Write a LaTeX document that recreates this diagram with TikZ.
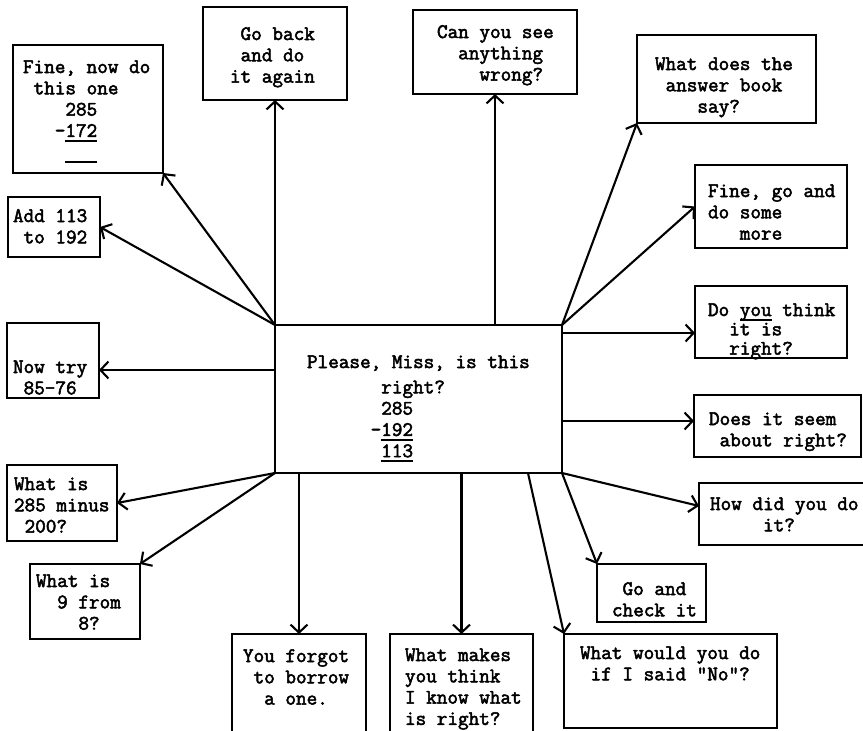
\documentclass[tikz,border=0pt]{standalone}
\usepackage{fontspec}
\newfontfamily\twfont{Latin Modern Mono}[FakeBold=2.5]
\usetikzlibrary{arrows.meta,fit,calc}
\newcommand\tstr{\rule{0pt}{15pt}}
\newcommand\tul[1]{\setbox0\hbox{#1}\rlap{\rule[-5pt]{\wd0}{1.8pt}}\box0}
\begin{document}
\begin{tikzpicture}[x=1pt,y=-1pt,
  box/.style={draw,line width=2.4pt,inner sep=0pt,outer sep=0pt},
  txt/.style={anchor=north west,inner sep=0pt,outer sep=0pt,align=left,
    font=\twfont\fontsize{20.6pt}{21.3pt}\selectfont},
  arr/.style={line width=2.1pt,-{Straight Barb[length=8pt,width=17pt]}}]
\useasboundingbox (0,0) rectangle (863,731);
% boxes
\node[box,fit={(275,325) (562,473)}] (c) {};
\node[box,fit={(13,45) (163,173)}] (b1) {};
\node[box,fit={(203,7) (347,100)}] (b2) {};
\node[box,fit={(413,10) (577,94)}] (b3) {};
\node[box,fit={(637,35) (816,123)}] (b4) {};
\node[box,fit={(695,165) (847,248)}] (b5) {};
\node[box,fit={(695,286) (847,358)}] (b6) {};
\node[box,fit={(694,395) (861,457)}] (b7) {};
\node[box,fit={(699,483) (880,545)}] (b8) {};
\node[box,fit={(597,564) (706,622)}] (b9) {};
\node[box,fit={(564,634) (777,728)}] (b10) {};
\node[box,fit={(390,634) (533,745)}] (b11) {};
\node[box,fit={(232,634) (366,745)}] (b12) {};
\node[box,fit={(30,564) (140,639)}] (b13) {};
\node[box,fit={(7,465) (117,541)}] (b14) {};
\node[box,fit={(7,323) (99,398)}] (b15) {};
\node[box,fit={(8,197) (100,257)}] (b16) {};
% texts
\node[txt] (tc) at (307,353) {\tstr Please, Miss, is this\\[4pt]~~~~~~~right?\\~~~~~~~285\\~~~~~~-\tul{192}\\~~~~~~~\tul{113}};
\node[txt] (t1) at (23,58) {\tstr Fine, now do\\~this one\\~~~~285\\~~~-\tul{172}\\~~~~\tul{\phantom{285}}};
\node[txt] (t2) at (230,25) {\tstr ~Go back\\~and do\\it again};
\node[txt] (t3) at (437,23) {\tstr Can you see\\~~anything\\~~~~wrong?};
\node[txt] (t4) at (655,55) {\tstr What does the\\~answer book\\~~~~say?};
\node[txt] (t5) at (708,182) {\tstr Fine, go and\\do some\\~~~more};
\node[txt] (t6) at (708,301) {\tstr Do \tul{you}~think\\[-2pt]~~it is\\[-2pt]~~right?};
\node[txt] (t7) at (709,410) {\tstr Does it seem\\~about right?};
\node[txt] (t8) at (710,495) {\tstr How did you do\\~~~~~it?};
\node[txt] (t9) at (612,580) {\tstr ~Go and\\check it};
\node[txt] (t10) at (580,644) {\tstr What would you do\\~if I said "No"?};
\node[txt] (t11) at (405,646) {\tstr What makes\\you think\\I know what\\is right?};
\node[txt] (t12) at (243,647) {\tstr You forgot\\~to borrow\\~~a one.};
\node[txt] (t13) at (36,572) {\tstr What is\\~~9 from\\~~~~8?};
\node[txt] (t14) at (14,475) {\tstr What is\\285 minus\\~200?};
\node[txt] (t15) at (13,358) {\tstr Now try\\~85-76};
\node[txt] (t16) at (13,207) {\tstr Add 113\\~to 192};
% connectors
\coordinate (p6) at (c.east |- 0,333);
\coordinate (p7) at (c.east |- 0,421);
\coordinate (p10) at (c.south -| 528,0);
\coordinate (p15) at (c.west |- 0,370);
\draw[arr] (c.north west) -- (b1.south east);
\draw[arr] (c.north west) -- (b16.east);
\draw[arr] (c.north west) -- (b2.south);
\draw[arr] (c.north -| b3.south) -- (b3.south);
\draw[arr] (c.north east) -- (b4.south west);
\draw[arr] (c.north east) -- (b5.west);
\draw[arr] (p6) -- (p6 -| b6.west);
\draw[arr] (p7) -- (p7 -| b7.west);
\draw[arr] (c.south east) -- ($(b8.north west)!0.37!(b8.south west)$);
\draw[arr] (c.south east) -- (b9.north west);
\draw[arr] (p10) -- (b10.north west);
\draw[arr] (c.south -| b11.north) -- (b11.north);
\draw[arr] (c.south -| b12.north) -- (b12.north);
\draw[arr] (c.south west) -- (b14.east);
\draw[arr] (c.south west) -- (b13.north east);
\draw[arr] (p15) -- (p15 -| b15.east);
\end{tikzpicture}
\end{document}
